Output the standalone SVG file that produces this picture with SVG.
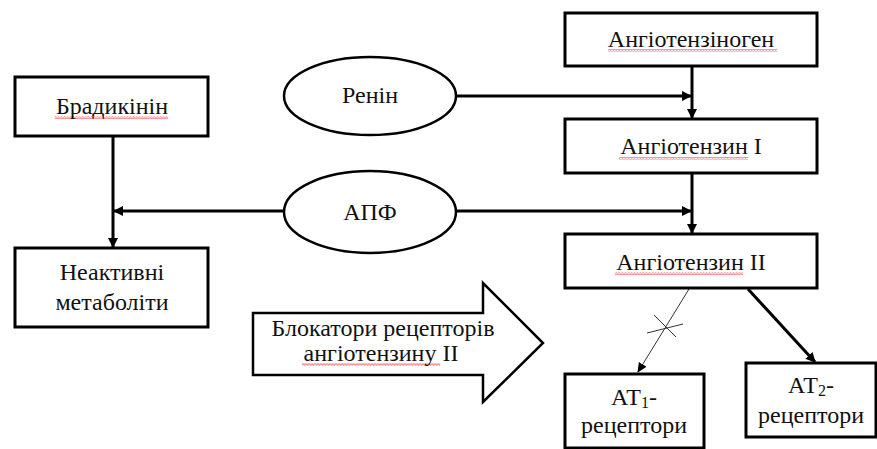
<svg xmlns="http://www.w3.org/2000/svg" width="877" height="449" viewBox="0 0 877 449">
<style>
.box{fill:#fff;stroke:#000;stroke-width:3}
.ell{fill:#fff;stroke:#000;stroke-width:2.5}
.t{font-family:'Liberation Serif','Times New Roman',serif;font-size:24px;fill:#111;text-anchor:middle}
.c{stroke:#000;stroke-width:3;fill:none}
.thin{stroke:#333;stroke-width:1;fill:none}
.sq{fill:url(#wavy)}
</style>
<defs>
<marker id="ah" markerWidth="10" markerHeight="10" refX="9" refY="5" orient="auto" markerUnits="userSpaceOnUse">
<path d="M0,0 L10,5 L0,10 Z" fill="#000"/>
</marker>
<marker id="ahs" markerWidth="10" markerHeight="10" refX="9" refY="5" orient="auto" markerUnits="userSpaceOnUse">
<path d="M0,0.5 L10,5 L0,9.5 Z" fill="#000"/>
</marker>
<pattern id="wavy" width="3" height="3" patternUnits="userSpaceOnUse">
<path d="M0,2.5 L0.75,0.5 L1.5,2.5 L2.25,0.5 L3,2.5" stroke="#f55" stroke-width="0.6" fill="none"/>
</pattern>
</defs>

<g id="connectors">
<line class="c" x1="692" y1="66" x2="692" y2="118" marker-end="url(#ah)"/>
<line class="c" x1="457" y1="96" x2="691" y2="96" marker-end="url(#ah)"/>
<line class="c" x1="692" y1="173" x2="692" y2="233" marker-end="url(#ah)"/>
<line class="c" x1="457" y1="211" x2="691" y2="211" marker-end="url(#ah)"/>
<line class="c" x1="284" y1="211" x2="114" y2="211" marker-end="url(#ah)"/>
<line class="c" x1="113" y1="136" x2="113" y2="247" marker-end="url(#ah)"/>
<line class="thin" x1="689" y1="289" x2="638" y2="372" marker-end="url(#ahs)"/>
<line class="thin" x1="654" y1="315" x2="676" y2="337"/>
<line class="thin" x1="647" y1="333" x2="683" y2="324"/>
<line class="c" x1="748" y1="289" x2="815" y2="362" marker-end="url(#ah)"/>
</g>

<g id="angiotensinogen">
<rect class="box" x="565" y="13" width="252" height="53"/>
<rect class="sq" x="608" y="49" width="169" height="3"/>
<text class="t" x="691" y="47">Ангіотензіноген</text>
</g>

<g id="renin">
<ellipse class="ell" cx="370" cy="96" rx="86" ry="39"/>
<text class="t" x="370" y="103">Ренін</text>
</g>

<g id="angiotensin1">
<rect class="box" x="565" y="119" width="252" height="54"/>
<rect class="sq" x="619" y="157" width="129" height="3"/>
<text class="t" x="691" y="154">Ангіотензин I</text>
</g>

<g id="bradykinin">
<rect class="box" x="15" y="77" width="193" height="59"/>
<rect class="sq" x="55" y="116" width="113" height="3"/>
<text class="t" x="112" y="114">Брадикінін</text>
</g>

<g id="apf">
<ellipse class="ell" cx="370" cy="212" rx="86" ry="41"/>
<text class="t" x="370" y="220">АПФ</text>
</g>

<g id="inactive">
<rect class="box" x="15" y="248" width="193" height="79"/>
<text class="t" x="112" y="280">Неактивні</text>
<text class="t" x="112" y="310">метаболіти</text>
</g>

<g id="angiotensin2">
<rect class="box" x="565" y="234" width="252" height="54"/>
<rect class="sq" x="615" y="272" width="128" height="3"/>
<text class="t" x="691" y="270">Ангіотензин II</text>
</g>

<g id="blockers">
<path d="M253,313 L483,313 L483,283 L543,343 L483,402 L483,375 L253,375 Z" fill="#fff" stroke="#000" stroke-width="2.5"/>
<rect class="sq" x="302" y="363" width="138" height="3"/>
<text class="t" x="383" y="336">Блокатори рецепторів</text>
<text class="t" x="381" y="361">ангіотензину II</text>
</g>

<g id="at1">
<rect class="box" x="565" y="374" width="139" height="74"/>
<text class="t" x="634" y="405">АТ<tspan font-size="16" dy="3">1</tspan><tspan dy="-3">-</tspan></text>
<text class="t" x="634" y="433">рецептори</text>
</g>

<g id="at2">
<rect class="box" x="746" y="363" width="130" height="74"/>
<text class="t" x="811" y="393">АТ<tspan font-size="16" dy="3">2</tspan><tspan dy="-3">-</tspan></text>
<text class="t" x="811" y="423">рецептори</text>
</g>
</svg>
